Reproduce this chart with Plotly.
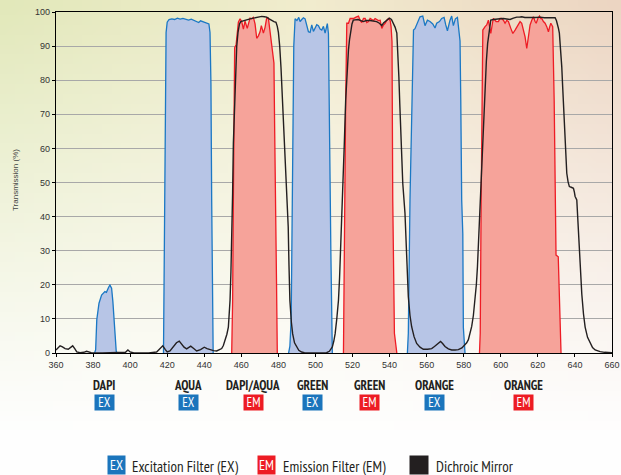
import base64, struct, zlib
import plotly.graph_objects as go

# ---------------- data ----------------
dapi_ex_x = [380.8, 381.4, 382.0, 383.2, 384.6, 385.5, 386.4, 387.2, 387.7, 388.4, 389.1, 390.0, 390.7, 391.3, 392.0, 392.5, 393.0]
dapi_ex_y = [0, 1.0, 9.7, 14.6, 17.0, 17.6, 18.0, 17.8, 18.7, 19.3, 19.9, 19.0, 15.0, 10.6, 3.0, 0.5, 0]

aqua_ex_x = [418.0, 418.3, 418.6, 419.0, 419.4, 420.0, 421.0, 422.5, 424.0, 425.5, 427.0, 428.5, 430.0, 431.5, 433.0, 434.5, 436.0, 437.0, 438.0, 439.5, 441.0, 442.5, 443.1, 443.6, 444.0, 444.4, 444.8]
aqua_ex_y = [0, 20, 50, 80, 94, 97.0, 97.8, 98.0, 97.8, 98.2, 97.9, 98.1, 97.8, 97.6, 97.9, 97.6, 97.2, 96.9, 97.4, 97.1, 96.8, 96.5, 94.0, 79, 45, 10, 0]

green_ex_x = [485.5, 486.2, 486.9, 487.4, 487.8, 488.3, 489.0, 490.0, 491.0, 491.7, 492.6, 493.5, 494.4, 495.3, 496.2, 497.1, 498.0, 498.9, 499.8, 500.7, 501.6, 502.5, 503.4, 504.3, 505.2, 506.0, 506.4, 507.0, 507.4, 508.0, 508.3, 508.8, 509.1]
green_ex_y = [0, 2, 10, 40, 75, 90, 98.0, 97.5, 98.4, 97.2, 97.8, 98.3, 98.0, 96.0, 94.2, 94.0, 96.2, 94.3, 95.5, 96.3, 96.0, 95.0, 94.7, 95.8, 93.8, 96.0, 96.6, 93.7, 79, 45, 30, 2, 0]

orange_ex_x = [549.6, 550.1, 551.0, 551.9, 552.9, 553.7, 555.0, 555.5, 556.4, 557.9, 559.1, 560.4, 561.8, 563.3, 564.5, 565.4, 566.9, 568.1, 569.4, 570.3, 571.2, 572.6, 573.5, 574.4, 575.5, 576.6, 577.3, 578.0, 578.4, 578.9, 579.5, 579.8, 580.7]
orange_ex_y = [0, 5.8, 44.9, 64.5, 94.7, 95.1, 96.6, 97.2, 98.6, 98.8, 96.0, 97.6, 97.2, 96.5, 95.3, 96.7, 97.2, 98.1, 98.4, 96.2, 94.5, 97.6, 98.8, 96.0, 98.0, 98.4, 95.2, 91.5, 74.2, 44.9, 35, 7.5, 0]

dapi_aqua_em_x = [454.8, 455.3, 455.7, 456.4, 457.2, 458.4, 459.3, 460.2, 461.1, 462.0, 463.2, 464.1, 464.7, 465.6, 466.5, 467.4, 468.3, 469.2, 470.1, 470.8, 471.9, 472.8, 473.7, 474.6, 475.3, 475.8, 476.9, 477.6, 478.0, 478.6, 479.0, 479.4]
dapi_aqua_em_y = [0, 15.4, 44.9, 89.5, 90.5, 97.0, 98.0, 97.2, 95.0, 97.3, 95.2, 97.5, 98.2, 98.0, 98.4, 96.5, 92.3, 93.0, 94.2, 96.0, 93.8, 95.5, 98.3, 98.2, 95.0, 92.8, 88.9, 85.0, 65, 45, 20, 0]

green_em_x = [515.1, 515.6, 516.3, 516.9, 517.8, 518.7, 520.5, 521.9, 523.2, 524.1, 525.0, 525.9, 526.8, 527.7, 528.6, 529.5, 530.4, 531.3, 532.2, 533.1, 534.0, 534.9, 535.8, 536.7, 537.6, 538.5, 539.4, 540.3, 540.8, 541.3, 541.7, 542.6, 543.9]
green_em_y = [0, 44.9, 74.0, 96.7, 96.7, 98.1, 98.1, 98.5, 98.8, 97.6, 96.9, 98.1, 98.1, 96.9, 97.2, 98.1, 97.8, 97.5, 98.1, 97.8, 97.5, 97.6, 95.2, 96.2, 96.7, 97.6, 98.1, 97.5, 95.7, 91.3, 44.9, 5.8, 0]

orange_em_x = [588.5, 588.9, 589.4, 589.9, 590.3, 591.5, 592.4, 593.3, 594.2, 594.6, 595.5, 596.0, 597.5, 598.7, 599.6, 600.5, 601.4, 602.3, 603.2, 604.1, 605.4, 606.5, 607.7, 608.6, 609.5, 610.4, 611.3, 612.2, 613.1, 614.0, 614.7, 615.8, 616.7, 617.6, 618.5, 619.1, 620.0, 620.9, 621.6, 622.1, 623.0, 623.9, 624.8, 625.7, 626.4, 627.0, 627.5, 628.0, 628.8, 629.3, 629.8, 631.0, 632.0, 632.5]
orange_em_y = [0, 5.8, 44.9, 83.7, 94.7, 95.7, 96.2, 97.6, 94.2, 93.7, 96.7, 98.1, 97.2, 97.2, 98.1, 98.1, 97.6, 96.7, 97.5, 97.2, 95.2, 93.7, 94.7, 95.7, 96.7, 97.2, 96.7, 94.7, 92.7, 89.3, 91.7, 96.2, 97.6, 98.6, 97.2, 96.7, 98.1, 98.8, 98.1, 98.1, 97.2, 96.7, 95.7, 94.2, 95.7, 96.7, 96.2, 95.7, 74.0, 44.9, 28.7, 28.2, 5.8, 0]

mirror_x = [360.0, 361.0, 362.2, 363.5, 364.9, 366.6, 368.0, 369.0, 370.2, 371.2, 373.0, 375.0, 376.5, 377.5, 379.0, 385.0, 390.0, 397.5, 398.8, 400.0, 402.0, 410.0, 414.3, 416.0, 417.6, 419.0, 420.0, 421.5, 423.3, 425.0, 426.5, 428.0, 429.1, 430.5, 432.7, 434.3, 435.9, 438.0, 440.0, 441.5, 443.1, 445.0, 446.7, 448.0, 449.4, 450.3, 451.2, 452.2, 453.0, 453.5, 453.9, 454.4, 454.8, 455.3, 455.7, 456.2, 456.6, 457.0, 457.5, 458.2, 459.0, 459.7, 461.3, 462.9, 464.7, 466.5, 468.7, 471.0, 472.4, 473.7, 475.0, 476.4, 477.6, 478.7, 479.4, 480.0, 480.7, 481.4, 482.0, 482.7, 483.4, 484.1, 484.8, 485.3, 485.7, 486.2, 487.0, 487.7, 488.7, 489.8, 491.0, 492.5, 494.0, 500.0, 506.0, 507.5, 509.1, 509.9, 510.6, 511.5, 512.4, 513.0, 513.6, 514.1, 514.5, 515.0, 515.6, 516.3, 517.0, 517.8, 518.4, 519.0, 519.7, 520.4, 523.0, 525.8, 527.5, 529.4, 531.2, 533.0, 534.5, 535.8, 536.7, 537.6, 538.8, 539.9, 541.0, 542.1, 543.0, 543.9, 544.5, 545.0, 545.5, 546.0, 546.6, 547.1, 548.3, 549.2, 550.1, 551.0, 551.9, 553.2, 554.6, 556.4, 558.2, 560.5, 562.7, 564.2, 565.4, 566.5, 567.5, 568.6, 569.9, 571.7, 573.5, 575.3, 577.1, 579.0, 580.7, 581.6, 582.5, 583.4, 584.3, 585.2, 586.1, 586.8, 587.4, 588.3, 589.0, 589.7, 590.6, 591.5, 592.2, 592.9, 593.7, 594.6, 596.0, 597.8, 599.6, 601.4, 603.2, 605.0, 606.8, 608.6, 610.0, 611.3, 613.0, 615.0, 617.0, 619.0, 621.2, 623.5, 625.7, 627.5, 629.3, 630.0, 630.5, 631.1, 631.6, 632.3, 632.9, 633.3, 633.7, 634.2, 634.7, 635.2, 635.6, 636.3, 637.0, 638.0, 639.2, 639.7, 640.1, 641.0, 641.7, 642.4, 643.0, 643.7, 644.6, 645.5, 646.8, 648.2, 649.5, 650.9, 652.2, 653.6, 656.0, 660.0]
mirror_y = [0.9, 1.6, 2.1, 1.8, 1.3, 1.1, 1.8, 2.1, 1.2, 0.3, 0.1, 0.2, 0.5, 0.3, 0.1, 0.0, 0.0, 0.2, 0.9, 0.3, 0.0, 0.0, 0.3, 1.2, 2.1, 1.0, 0.3, 0.6, 1.7, 3.0, 3.5, 2.4, 1.7, 1.2, 2.0, 1.3, 0.6, 1.0, 1.7, 1.3, 1.0, 0.7, 0.6, 0.9, 1.3, 2.2, 3.7, 5.5, 7.6, 11.0, 15.4, 24.0, 32.0, 47.0, 61.5, 71.0, 79.0, 85.0, 89.8, 94.0, 96.5, 97.2, 97.5, 97.7, 98.0, 98.2, 98.5, 98.7, 98.6, 98.5, 98.0, 97.5, 97.2, 97.0, 95.8, 94.0, 90.0, 83.7, 76.0, 69.5, 60.0, 50.0, 42.5, 37.0, 26.0, 15.4, 9.0, 5.6, 3.0, 1.7, 0.8, 0.3, 0.1, 0.0, 0.1, 0.5, 1.8, 3.5, 5.6, 10.0, 15.4, 22.0, 30.0, 38.0, 44.9, 49.7, 62.0, 74.2, 82.0, 88.9, 92.0, 94.7, 96.5, 97.6, 97.8, 97.2, 97.5, 97.5, 97.3, 97.2, 96.7, 96.0, 96.8, 97.2, 97.9, 98.2, 97.8, 96.7, 95.5, 93.8, 88.0, 81.0, 73.0, 64.4, 57.0, 49.8, 41.0, 27.3, 16.5, 11.0, 7.7, 4.8, 2.8, 1.7, 1.1, 1.1, 1.3, 1.9, 2.4, 3.1, 3.4, 2.8, 1.9, 1.2, 0.9, 0.9, 1.0, 1.5, 2.4, 3.0, 3.9, 5.5, 7.8, 11.0, 15.5, 20.0, 25.3, 37.0, 46.0, 54.6, 67.0, 79.0, 85.5, 90.8, 94.5, 97.6, 97.8, 97.8, 98.0, 98.1, 97.9, 97.8, 98.2, 98.5, 98.5, 98.6, 98.4, 98.3, 98.4, 98.4, 98.5, 98.3, 98.3, 98.3, 98.3, 97.5, 96.6, 95.2, 93.8, 89.0, 83.9, 79.0, 74.2, 66.0, 59.5, 55.5, 52.7, 50.2, 48.8, 48.6, 48.3, 47.2, 45.9, 44.9, 37.0, 30.0, 23.0, 17.3, 11.5, 7.6, 4.6, 2.8, 1.6, 0.9, 0.6, 0.4, 0.2, 0.1]

x_ticks = list(range(360, 661, 20))
y_ticks = list(range(0, 101, 10))

label_names = ["DAPI", "AQUA", "DAPI/AQUA", "GREEN", "GREEN", "ORANGE", "ORANGE"]
label_kinds = ["EX", "EX", "EM", "EX", "EM", "EX", "EM"]
label_pos = [385.9, 431.4, 466.3, 498.2, 528.9, 564.0, 612.0]

legend_texts = ["Excitation Filter (EX)", "Emission Filter (EM)", "Dichroic Mirror"]

# ---------------- style ----------------
BLUE_LINE = "#1b78c4"
BLUE_FILL = "#b7c5e6"
RED_LINE = "#ee1c25"
RED_FILL = "#f6a39a"
EX_BOX = "#1b75bc"
EM_BOX = "#ed1c24"
DARK = "#231f20"
NARROW = "PT Sans Narrow, Asap Condensed, Barlow Semi Condensed, Archivo Narrow, DejaVu Sans Condensed, sans-serif"
ARIAL = "Liberation Sans, Arial, sans-serif"

FIG_W, FIG_H = 621, 475
M_L, M_R, M_T, M_B = 56, 9, 12, 122
PLOT_W = FIG_W - M_L - M_R
PLOT_H = FIG_H - M_T - M_B


def gradient_png(w, h):
    rows = []
    for j in range(h):
        v = j / (h - 1)
        row = bytearray([0])
        for i in range(w):
            u = i / (w - 1)
            if u < 0.5:
                a = u / 0.5
                top = [226 + (241 - 226) * a, 232 + (236 - 232) * a, 186 + (206 - 186) * a]
            else:
                a = (u - 0.5) / 0.5
                top = [241 + (236 - 241) * a, 236 + (213 - 236) * a, 206 + (194 - 206) * a]
            t = max(0.0, 1.0 - v / 0.92) ** 1.1
            col = [int(round(254 + (c - 254) * t)) for c in top]
            row.extend(col)
        rows.append(bytes(row))
    raw = b"".join(rows)

    def chunk(tag, data):
        c = struct.pack(">I", len(data)) + tag + data
        return c + struct.pack(">I", zlib.crc32(tag + data) & 0xffffffff)

    png = b"\x89PNG\r\n\x1a\n" + chunk(b"IHDR", struct.pack(">IIBBBBB", w, h, 8, 2, 0, 0, 0))
    png += chunk(b"IDAT", zlib.compress(raw, 9)) + chunk(b"IEND", b"")
    return "data:image/png;base64," + base64.b64encode(png).decode()


def px(xp):
    return (xp - M_L) / PLOT_W


def py(yp):
    return (FIG_H - M_B - yp) / PLOT_H


fig = go.Figure()

for xs, ys in [(dapi_ex_x, dapi_ex_y), (aqua_ex_x, aqua_ex_y), (green_ex_x, green_ex_y), (orange_ex_x, orange_ex_y)]:
    fig.add_trace(go.Scatter(x=xs, y=ys, mode="lines", fill="tozeroy", fillcolor=BLUE_FILL,
                             line=dict(color=BLUE_LINE, width=1.3), showlegend=False, hoverinfo="skip"))
for xs, ys in [(dapi_aqua_em_x, dapi_aqua_em_y), (green_em_x, green_em_y), (orange_em_x, orange_em_y)]:
    fig.add_trace(go.Scatter(x=xs, y=ys, mode="lines", fill="tozeroy", fillcolor=RED_FILL,
                             line=dict(color=RED_LINE, width=1.3), showlegend=False, hoverinfo="skip"))
fig.add_trace(go.Scatter(x=mirror_x, y=mirror_y, mode="lines", line=dict(color=DARK, width=1.4),
                         showlegend=False, hoverinfo="skip"))

annotations = []
for name, kind, xp in zip(label_names, label_kinds, label_pos):
    annotations.append(dict(x=xp, xref="x", y=py(386), yref="paper", xanchor="center", yanchor="middle",
                            text="<b>%s</b>" % name, showarrow=False,
                            font=dict(family=NARROW, size=13, color=DARK)))
    annotations.append(dict(x=xp, xref="x", y=py(402), yref="paper", xanchor="center", yanchor="middle",
                            text=kind, showarrow=False,
                            bgcolor=EX_BOX if kind == "EX" else EM_BOX, width=19, height=15, borderpad=0,
                            font=dict(family=NARROW, size=13, color="white")))

leg_py = 465
annotations.append(dict(x=px(116.5), xref="paper", y=py(leg_py), yref="paper", xanchor="center", yanchor="middle",
                        text="EX", showarrow=False, bgcolor=EX_BOX, width=17, height=18, borderpad=0,
                        font=dict(family=NARROW, size=14, color="white")))
annotations.append(dict(x=px(130), xref="paper", xanchor="left", y=py(leg_py + 1), yref="paper", yanchor="middle",
                        text=legend_texts[0], showarrow=False, font=dict(family=NARROW, size=15, color=DARK)))
annotations.append(dict(x=px(266), xref="paper", y=py(leg_py), yref="paper", xanchor="center", yanchor="middle",
                        text="EM", showarrow=False, bgcolor=EM_BOX, width=17, height=18, borderpad=0,
                        font=dict(family=NARROW, size=14, color="white")))
annotations.append(dict(x=px(281), xref="paper", xanchor="left", y=py(leg_py + 1), yref="paper", yanchor="middle",
                        text=legend_texts[1], showarrow=False, font=dict(family=NARROW, size=15, color=DARK)))
annotations.append(dict(x=px(419), xref="paper", y=py(leg_py), yref="paper", xanchor="center", yanchor="middle",
                        text=" ", showarrow=False, bgcolor=DARK, width=18, height=18, borderpad=0,
                        font=dict(family=NARROW, size=13, color="white")))
annotations.append(dict(x=px(434), xref="paper", xanchor="left", y=py(leg_py + 1), yref="paper", yanchor="middle",
                        text=legend_texts[2], showarrow=False, font=dict(family=NARROW, size=15, color=DARK)))
annotations.append(dict(x=px(15), xref="paper", y=py(180), yref="paper", xanchor="center", yanchor="middle",
                        text="Transmission (%)", textangle=-90,
                        showarrow=False, font=dict(family=ARIAL, size=8, color="#444444")))

fig.update_layout(
    width=FIG_W, height=FIG_H, autosize=False,
    margin=dict(l=M_L, r=M_R, t=M_T, b=M_B, autoexpand=False),
    paper_bgcolor="white",
    plot_bgcolor="rgba(0,0,0,0)",
    images=[dict(source=gradient_png(64, 48), xref="paper", yref="paper", x=-M_L / PLOT_W, y=1 + M_T / PLOT_H,
                 sizex=FIG_W / PLOT_W, sizey=FIG_H / PLOT_H, sizing="stretch", layer="below",
                 xanchor="left", yanchor="top")],
    annotations=annotations,
    font=dict(family=ARIAL, size=9, color="#333333"),
)
fig.update_xaxes(range=[360, 660], tickvals=x_ticks, showgrid=False, zeroline=False, automargin=False,
                 showline=True, linecolor="black", linewidth=1.3, mirror=True,
                 ticks="outside", ticklen=3, tickcolor="black", tickfont=dict(family=ARIAL, size=9, color="#333333"))
fig.update_yaxes(range=[0, 100], tickvals=y_ticks, showgrid=True, gridcolor="#a8a8a8", gridwidth=1,
                 zeroline=False, automargin=False, showline=True, linecolor="black", linewidth=1.3, mirror=True,
                 ticks="outside", ticklen=3, tickcolor="black", tickfont=dict(family=ARIAL, size=9, color="#333333"))

fig.write_html("out.html", config={"displayModeBar": False},
               post_script="document.body.style.margin='0px';document.body.style.overflow='hidden';")
